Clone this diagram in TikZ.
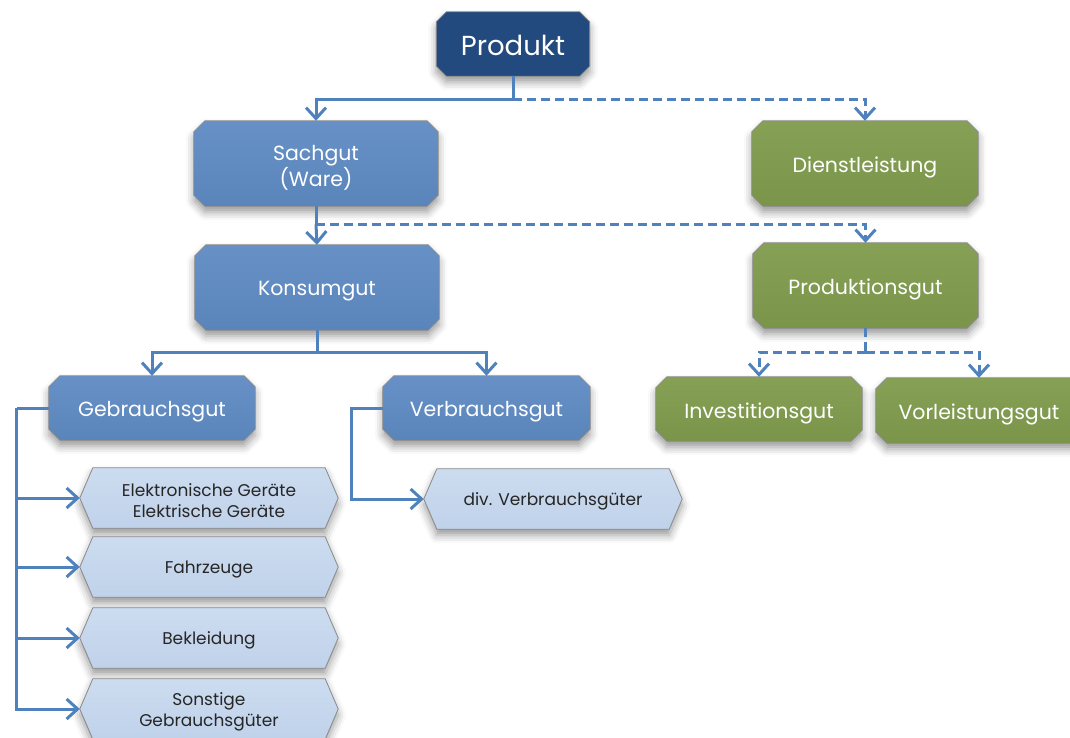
\documentclass[tikz,border=0pt]{standalone}
\usepackage{fontspec}
\setmainfont{Poppins}
\usetikzlibrary{arrows.meta,shadows.blur,backgrounds,calc}
\definecolor{dblue}{HTML}{234A7E}
\definecolor{mblueT}{HTML}{6791C6}
\definecolor{mblueB}{HTML}{5A85BB}
\definecolor{greenT}{HTML}{86A156}
\definecolor{greenB}{HTML}{7A954A}
\definecolor{lblueT}{HTML}{CCDCF0}
\definecolor{lblueB}{HTML}{C0D2EA}
\definecolor{lineblue}{HTML}{4F81BD}
\definecolor{edge}{HTML}{8A8A8A}
\newcommand\octo[3]{%
  \path[octbox,#2] ([xshift=#3]#1.north west) -- ([xshift=-#3]#1.north east)
    -- ([yshift=-#3]#1.north east) -- ([yshift=#3]#1.south east)
    -- ([xshift=-#3]#1.south east) -- ([xshift=#3]#1.south west)
    -- ([yshift=#3]#1.south west) -- ([yshift=-#3]#1.north west) -- cycle;}
\newcommand\hexa[1]{%
  \path[octbox,top color=lblueT,bottom color=lblueB] ([xshift=13pt]#1.north west) -- ([xshift=-13pt]#1.north east)
    -- (#1.east) -- ([xshift=-13pt]#1.south east) -- ([xshift=13pt]#1.south west)
    -- (#1.west) -- cycle;}
\tikzset{
  btext/.style={inner sep=0pt, align=center, text=white, yshift=-4pt,
    font=\fontsize{20.5}{26}\selectfont},
  ltext/.style={inner sep=0pt, align=center, text=black!85, yshift=-2.5pt,
    font=\fontsize{17}{21}\selectfont},
  box/.style={rectangle, inner sep=0pt, label={[btext]center:{#1}}},
  lbox/.style={rectangle, inner sep=0pt, minimum width=258pt, minimum height=60pt,
    label={[ltext]center:{#1}}},
  octbox/.style={draw=edge, line width=0.8pt,
    blur shadow={shadow xshift=0pt, shadow yshift=-6pt, shadow blur radius=8pt, shadow opacity=40}},
  blueF/.style={top color=mblueT, bottom color=mblueB},
  greenF/.style={top color=greenT, bottom color=greenB},
  conn/.style={draw=lineblue, line width=3pt, -{Straight Barb[length=11pt,width=20pt,line width=3pt]}},
  plain/.style={draw=lineblue, line width=3pt},
  dsh/.style={dash pattern=on 9pt off 5pt},
}
\begin{document}
\begin{tikzpicture}[x=1pt,y=-1pt]
\clip (0,0) rectangle (1070,737);
% nodes
\node[rectangle, inner sep=0pt, minimum width=153pt, minimum height=64pt,
  label={[btext, yshift=3pt, font=\fontsize{27.5}{30}\selectfont]center:Produkt}] (prod) at (513,44) {};
\node[box={Sachgut\\(Ware)}, minimum width=244pt, minimum height=85pt] (sach) at (316,163.5) {};
\node[box=Dienstleistung, minimum width=226pt, minimum height=85pt] (dien) at (865,163.5) {};
\node[box=Konsumgut, minimum width=244pt, minimum height=85pt] (kons) at (317,287.5) {};
\node[box=Produktionsgut, minimum width=225pt, minimum height=85pt] (prodg) at (865.5,285.5) {};
\node[box=Gebrauchsgut, minimum width=206pt, minimum height=64pt] (gebr) at (152,408) {};
\node[box=Verbrauchsgut, minimum width=207pt, minimum height=64pt] (verb) at (486.5,408) {};
\node[box=Investitionsgut, minimum width=206pt, minimum height=64pt] (inv) at (759,409) {};
\node[box=Vorleistungsgut, minimum width=206pt, minimum height=65pt] (vorl) at (979,410.5) {};
\node[lbox={Elektronische Geräte\\Elektrische Geräte}] (elek) at (209,498) {};
\node[lbox=Fahrzeuge] (fahr) at (209,567) {};
\node[lbox=Bekleidung] (bekl) at (209,638) {};
\node[lbox={Sonstige\\Gebrauchsgüter}] (sons) at (209,709) {};
\node[lbox={div. Verbrauchsgüter}] (divv) at (553,499) {};
% shapes
\begin{scope}[on background layer]
\octo{prod}{fill=dblue}{10pt}
\octo{sach}{blueF}{11pt}
\octo{dien}{greenF}{11pt}
\octo{kons}{blueF}{11pt}
\octo{prodg}{greenF}{11pt}
\octo{gebr}{blueF}{11pt}
\octo{verb}{blueF}{11pt}
\octo{inv}{greenF}{11pt}
\octo{vorl}{greenF}{11pt}
\hexa{elek}
\hexa{fahr}
\hexa{bekl}
\hexa{sons}
\hexa{divv}
\end{scope}
% connectors
\coordinate (j1) at ($(prod.south)+(0,23)$);
\draw[plain] (prod.south) -- (j1);
\draw[conn] (j1) -| (sach.north);
\draw[conn,dsh] (j1) -| (dien.north);
\coordinate (j2) at ($(sach.south)+(0,18)$);
\draw[plain] (sach.south) -- (j2);
\draw[conn] (j2) -- (kons.north);
\draw[conn,dsh] (j2) -| (prodg.north);
\coordinate (j3) at ($(kons.south)+(0,22)$);
\draw[plain] (kons.south) -- (j3);
\draw[conn] (j3) -| (gebr.north);
\draw[conn] (j3) -| (verb.north);
\coordinate (j4) at ($(prodg.south)+(0,24)$);
\draw[plain,dsh] (prodg.south) -- (j4);
\draw[conn,dsh] (j4) -| (inv.north);
\draw[conn,dsh] (j4) -| (vorl.north);
\coordinate (g0) at ($(gebr.west)+(-32,0)$);
\draw[plain] (gebr.west) -- (g0);
\draw[conn] (g0) |- (elek.west);
\draw[conn] (g0) |- (fahr.west);
\draw[conn] (g0) |- (bekl.west);
\draw[conn] (g0) |- (sons.west);
\coordinate (v0) at ($(verb.west)+(-31,0)$);
\draw[conn] (verb.west) -- (v0) |- (divv.west);
\end{tikzpicture}
\end{document}
